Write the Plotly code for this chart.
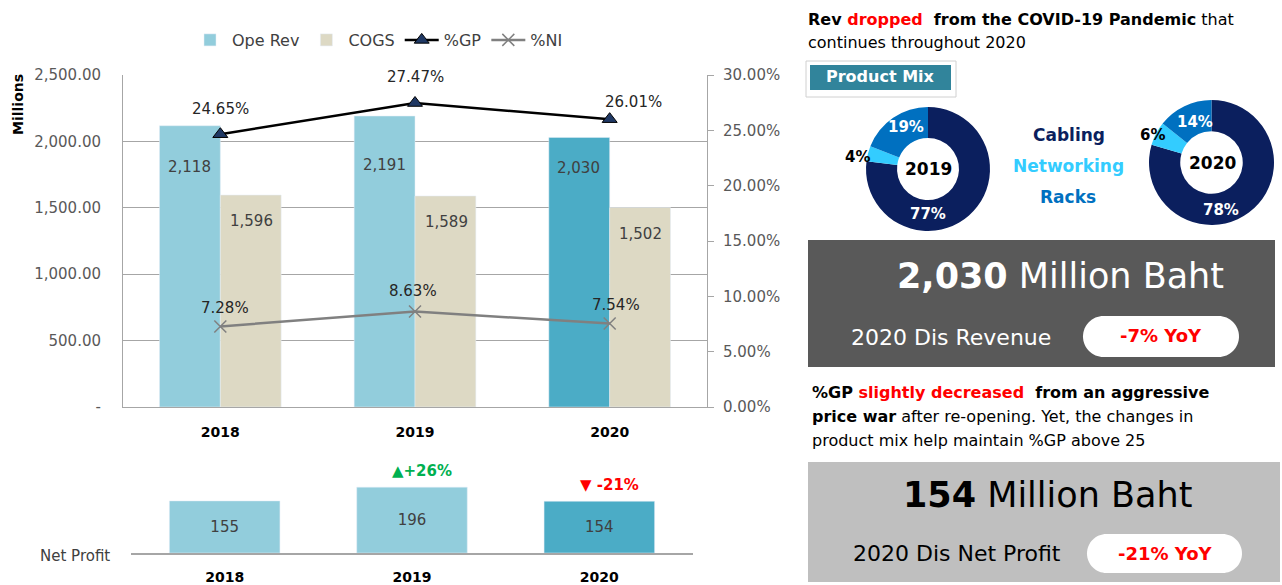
import plotly.graph_objects as go

W, H = 1282, 585


def px(x):
    return x / W


def py(y):
    return 1 - y / H


# ---------------- data ----------------
years = ["2018", "2019", "2020"]
ope_rev = [2118, 2191, 2030]
cogs = [1596, 1589, 1502]
gp_pct = [24.65, 27.47, 26.01]
ni_pct = [7.28, 8.63, 7.54]
net_profit = [155, 196, 154]
np_yoy = ["", "▲+26%", "▼ -21%"]
np_yoy_color = ["#00B050", "#00B050", "#FF0000"]
mix_labels = ["Cabling", "Networking", "Racks"]
mix_2019 = [77, 4, 19]
mix_2020 = [78, 6, 14]
left_ticks = [0, 500, 1000, 1500, 2000, 2500]
left_ticktext = ["-", "500.00", "1,000.00", "1,500.00", "2,000.00", "2,500.00"]
right_ticks = [0, 5, 10, 15, 20, 25, 30]

# ---------------- styles ----------------
FONT = "DejaVu Sans"
rev_colors = ["#92CDDC", "#92CDDC", "#4BACC6"]
cogs_color = "#DDD9C4"
mix_colors = ["#0B1F5E", "#33CCFF", "#0070C0"]
label_gray = "#595959"
axis_gray = "#A6A6A6"

xi = list(range(len(years)))

fig = go.Figure()

# main combo chart
fig.add_trace(go.Bar(x=xi, y=ope_rev, name="Ope Rev",
                     marker=dict(color=rev_colors), xaxis="x", yaxis="y"))
fig.add_trace(go.Bar(x=xi, y=cogs, name="COGS",
                     marker=dict(color=cogs_color), xaxis="x", yaxis="y"))
fig.add_trace(go.Scatter(x=xi, y=gp_pct, name="%GP", mode="lines+markers",
                         line=dict(color="black", width=2.5),
                         marker=dict(symbol="triangle-up", size=13, color="#1F3864",
                                     line=dict(color="black", width=1)),
                         xaxis="x", yaxis="y2"))
fig.add_trace(go.Scatter(x=xi, y=ni_pct, name="%NI", mode="lines+markers",
                         line=dict(color="#808080", width=2.5),
                         marker=dict(symbol="x-thin", size=12, color="#808080",
                                     line=dict(color="#808080", width=1.5)),
                         xaxis="x", yaxis="y2"))

# net profit chart
fig.add_trace(go.Bar(x=xi, y=net_profit, name="Net Profit", showlegend=False,
                     marker=dict(color=rev_colors), width=0.59,
                     text=[str(v) for v in net_profit], textposition="inside",
                     insidetextanchor="middle",
                     textfont=dict(size=15, color="#404040", family=FONT),
                     xaxis="x2", yaxis="y3"))

# donuts
pie_specs = [
    (mix_2019, (866, 990, 107, 231), [(928, 214), (857, 157), (906, 127)], "2019", (928, 169)),
    (mix_2020, (1149, 1274, 100, 225), [(1221, 210), (1152, 135), (1195, 122)], "2020", (1212, 163)),
]
for vals, dom, _, _, _ in pie_specs:
    fig.add_trace(go.Pie(values=vals, labels=mix_labels, hole=0.5, sort=False,
                         direction="clockwise", rotation=0, showlegend=False,
                         marker=dict(colors=mix_colors, line=dict(color="white", width=0)),
                         textinfo="none", hoverinfo="label+value",
                         domain=dict(x=[px(dom[0]), px(dom[1])], y=[py(dom[3]), py(dom[2])])))

annotations = []
# bar value labels
rev_shift = [-41, -49, -31]
for i, v, s in zip(xi, ope_rev, rev_shift):
    annotations.append(dict(x=i, y=v, xref="x", yref="y", text=f"{v:,}", showarrow=False,
                            xshift=-31, yshift=s, font=dict(size=15, color="#404040")))
for i, v in zip(xi, cogs):
    annotations.append(dict(x=i, y=v, xref="x", yref="y", text=f"{v:,}", showarrow=False,
                            xshift=31, yshift=-26, font=dict(size=15, color="#404040")))
gp_shift = [(0, 25), (0, 26), (24, 17)]
for i, v, s in zip(xi, gp_pct, gp_shift):
    annotations.append(dict(x=i, y=v, xref="x", yref="y2", text=f"{v:.2f}%", showarrow=False,
                            xshift=s[0], yshift=s[1], font=dict(size=15, color="#262626")))
ni_shift = [(5, 18), (-2, 20), (6, 19)]
for i, v, s in zip(xi, ni_pct, ni_shift):
    annotations.append(dict(x=i, y=v, xref="x", yref="y2", text=f"{v:.2f}%", showarrow=False,
                            xshift=s[0], yshift=s[1], font=dict(size=15, color="#262626")))
# yoy markers on net profit
for i, v, t, c in zip(xi, net_profit, np_yoy, np_yoy_color):
    if t:
        annotations.append(dict(x=i, y=v, xref="x2", yref="y3", text=f"<b>{t}</b>",
                                showarrow=False, xshift=10, yshift=16,
                                font=dict(size=15, color=c)))


# static texts
def txt(x, y, text, size, color="black", xanchor="left", **kw):
    annotations.append(dict(x=px(x), y=py(y), xref="paper", yref="paper", text=text,
                            showarrow=False, xanchor=xanchor, yanchor="middle",
                            font=dict(size=size, color=color, family=FONT), **kw))


# donut labels
for vals, _, pos, yr, ctr in pie_specs:
    for v, (lx, ly), col in zip(vals, pos, ["white", "black", "white"]):
        txt(lx, ly, f"<b>{v}%</b>", 15, color=col, xanchor="center")
    txt(ctr[0], ctr[1], f"<b>{yr}</b>", 17, xanchor="center")

txt(18, 105, "<b>Millions</b>", 14, xanchor="center", textangle=-90)
txt(75, 556, "Net Profit", 15, color="#404040", xanchor="center")

txt(806, 20, "<b>Rev <span style='color:#FF0000'>dropped</span>  from the COVID-19 Pandemic</b> that", 16)
txt(806, 43, "continues throughout 2020", 16)
txt(880, 77, "<b>Product Mix</b>", 16, color="white", xanchor="center")
txt(1069, 135, "<b>Cabling</b>", 17, color=mix_colors[0], xanchor="center")
txt(1068, 166, "<b>Networking</b>", 17, color=mix_colors[1], xanchor="center")
txt(1068, 197, "<b>Racks</b>", 17, color=mix_colors[2], xanchor="center")

txt(1060, 276, "<b>2,030</b> Million Baht", 35, color="white", xanchor="center")
txt(951, 338, "2020 Dis Revenue", 22, color="white", xanchor="center")
txt(1161, 335, "<b>-7% YoY</b>", 18, color="#FF0000", xanchor="center")

txt(810, 393, "<b>%GP <span style='color:#FF0000'>slightly decreased</span>  from an aggressive</b>", 16)
txt(810, 416, "<b>price war</b> after re-opening. Yet, the changes in", 16)
txt(810, 440, "product mix help maintain %GP above 25", 16)

txt(1047, 495, "<b>154</b> Million Baht", 35, color="black", xanchor="center")
txt(957, 553, "2020 Dis Net Profit", 22, color="black", xanchor="center")
txt(1165, 553, "<b>-21% YoY</b>", 18, color="#FF0000", xanchor="center")


def rect(x0, y0, x1, y1, fill, line=None):
    return dict(type="rect", xref="paper", yref="paper", x0=px(x0), x1=px(x1),
                y0=py(y1), y1=py(y0), fillcolor=fill,
                line=dict(width=1 if line else 0, color=line or fill))


def pill(x0, y0, x1, y1, fill):
    r = (y1 - y0) / 2
    k = 0.5523 * r
    pts = [
        ("M", [(x0 + r, y0)]),
        ("L", [(x1 - r, y0)]),
        ("C", [(x1 - r + k, y0), (x1, y0 + r - k), (x1, y0 + r)]),
        ("C", [(x1, y0 + r + k), (x1 - r + k, y1), (x1 - r, y1)]),
        ("L", [(x0 + r, y1)]),
        ("C", [(x0 + r - k, y1), (x0, y0 + r + k), (x0, y0 + r)]),
        ("C", [(x0, y0 + r - k), (x0 + r - k, y0), (x0 + r, y0)]),
    ]
    path = ""
    for cmd, ps in pts:
        path += cmd + " " + " ".join(f"{px(a):.5f},{py(b):.5f}" for a, b in ps) + " "
    return dict(type="path", xref="paper", yref="paper", path=path + "Z",
                fillcolor=fill, line=dict(width=0))


shapes = [
    rect(806, 61, 956, 97, "white", line="#D0D0D0"),
    rect(810, 65, 951, 90, "#31849B"),
    rect(808, 240, 1275, 367, "#595959"),
    pill(1083, 316, 1239, 357, "white"),
    rect(808, 462, 1280, 582, "#BFBFBF"),
    pill(1087, 534, 1242, 573, "white"),
]

fig.update_layout(
    width=W, height=H, margin=dict(l=0, r=0, t=0, b=0, pad=0, autoexpand=False),
    paper_bgcolor="white", plot_bgcolor="rgba(0,0,0,0)",
    font=dict(family=FONT, color=label_gray),
    barmode="group", bargap=0.375, bargroupgap=0,
    showlegend=True,
    legend=dict(orientation="h", x=px(188), y=py(40), xanchor="left", yanchor="middle",
                font=dict(size=16, color="#404040"), bgcolor="rgba(0,0,0,0)",
                itemwidth=34, tracegroupgap=0),
    xaxis=dict(domain=[px(123), px(707)], anchor="y", range=[-0.5, 2.5],
               tickvals=xi, ticktext=years, automargin=False,
               showline=True, linecolor=axis_gray, linewidth=1, ticks="",
               showgrid=False, zeroline=False, ticklabelstandoff=12,
               tickfont=dict(size=14, color="black", weight="bold")),
    yaxis=dict(domain=[py(407), py(75)], range=[0, 2500], tickvals=left_ticks,
               ticktext=left_ticktext, showgrid=True, gridcolor=axis_gray, gridwidth=1,
               showline=True, linecolor=axis_gray, zeroline=False, ticks="",
               automargin=False,
               ticklabelstandoff=18, tickfont=dict(size=15, color=label_gray)),
    yaxis2=dict(overlaying="y", side="right", anchor="x", range=[0, 30],
                tickvals=right_ticks, ticktext=[f"{v:.2f}%" for v in right_ticks],
                showgrid=False, showline=True, linecolor=axis_gray, zeroline=False,
                ticks="outside", ticklen=6, tickcolor=axis_gray, ticklabelstandoff=6,
                automargin=False,
                tickfont=dict(size=15, color=label_gray)),
    xaxis2=dict(domain=[px(131), px(693)], anchor="y3", range=[-0.5, 2.5],
                tickvals=xi, ticktext=years, automargin=False,
                showline=True, linecolor=axis_gray, linewidth=2, ticks="",
                showgrid=False, zeroline=False, ticklabelstandoff=10,
                tickfont=dict(size=14, color="black", weight="bold")),
    yaxis3=dict(domain=[py(553), py(469)], range=[0, 250], visible=False,
                automargin=False, anchor="x2"),
    annotations=annotations,
    shapes=shapes,
)

fig.write_html(
    "out.html", config={"displayModeBar": False},
    post_script="document.body.style.margin='0';document.body.style.padding='0';")
